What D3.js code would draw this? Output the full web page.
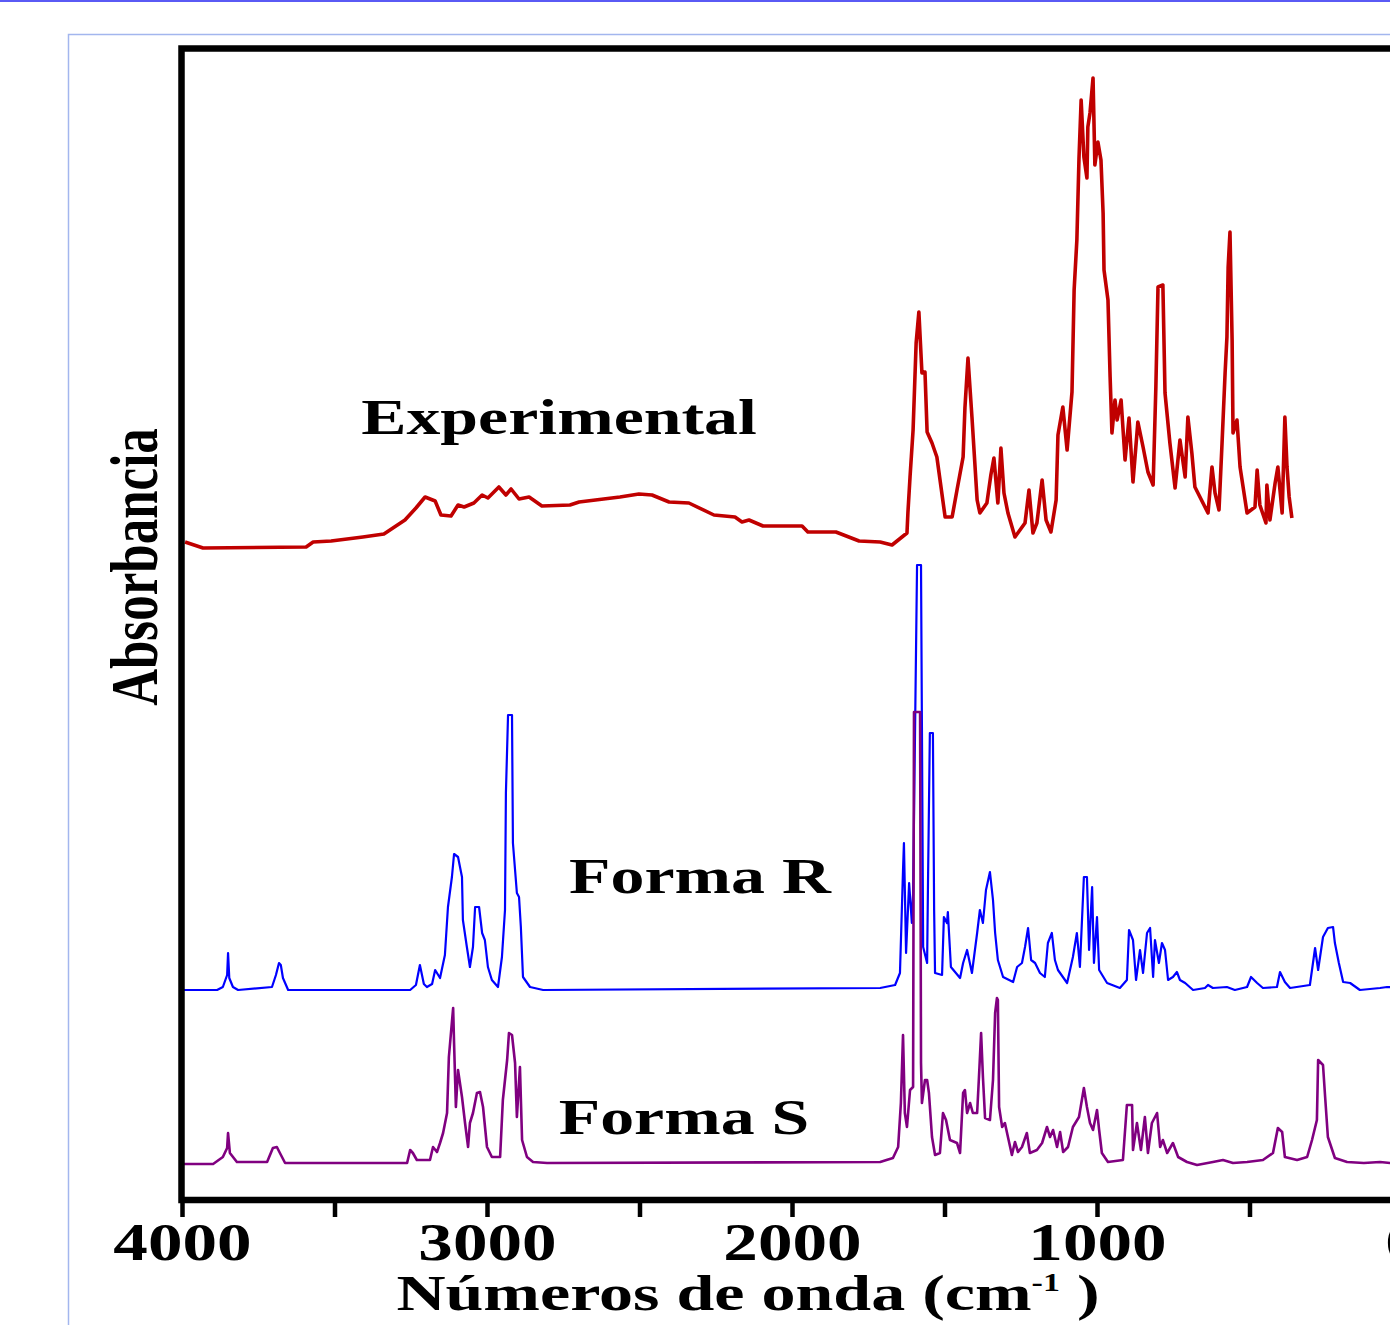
<!DOCTYPE html>
<html>
<head>
<meta charset="utf-8">
<script src="https://cdn.jsdelivr.net/npm/d3@7"></script>
<style>
  html, body { margin: 0; padding: 0; background: #fff; }
  svg { display: block; }
  text { font-family: "Liberation Serif", "Times New Roman", serif; font-weight: bold; fill: #000; }
</style>
</head>
<body>
<svg id="chart" width="1390" height="1325"></svg>
<script>
// ---- data (wavenumber cm^-1, relative absorbance) ----
const seriesNames = ["Experimental", "Forma R", "Forma S"];
const seriesColors = ["#c00000", "#0000ff", "#800080"];
const stackOffsets = [65, 21, 3.6];

const experimental = [
  [3990,0.8],[3931,0.2],[3593,0.3],[3570,0.8],[3511,0.9],[3407,1.3],[3338,1.6],[3269,3.0],[3233,4.2],
  [3203,5.3],[3170,4.9],[3151,3.5],[3118,3.4],[3095,4.5],[3075,4.3],[3043,4.7],[3016,5.5],[2997,5.2],
  [2961,6.3],[2938,5.5],[2921,6.1],[2895,5.1],[2862,5.3],[2820,4.4],[2728,4.5],[2698,4.8],[2564,5.3],
  [2502,5.6],[2459,5.5],[2403,4.8],[2338,4.7],[2256,3.5],[2187,3.3],[2164,2.8],[2141,3.0],[2095,2.4],
  [1967,2.4],[1948,1.8],[1856,1.8],[1780,0.9],[1711,0.8],[1672,0.5],[1623,1.7],[1620,3.7],[1613,7.3],
  [1603,12.0],[1593,20.7],[1584,23.8],[1574,17.7],[1564,17.8],[1557,11.8],[1541,10.7],[1525,9.3],
  [1498,3.3],[1475,3.3],[1459,6.0],[1439,9.3],[1433,14.2],[1423,19.2],[1410,13.3],[1393,5.0],[1384,3.7],
  [1361,4.7],[1348,7.5],[1338,9.2],[1325,4.7],[1315,10.2],[1305,5.7],[1292,3.7],[1269,1.3],[1236,2.7],
  [1223,6.0],[1210,1.7],[1197,2.7],[1180,7.0],[1167,3.0],[1151,1.8],[1134,5.0],[1128,11.5],[1112,14.3],
  [1098,10.0],[1082,15.8],[1075,26.0],[1066,31.0],[1059,39.2],[1052,45.0],[1043,39.3],[1033,37.2],
  [1030,42.3],[1023,43.7],[1013,47.2],[1007,38.5],[997,40.8],[987,39.0],[980,33.7],[977,28.0],[964,25.0],
  [957,17.3],[951,11.7],[941,15.0],[934,13.0],[921,15.0],[908,9.0],[895,13.2],[882,6.8],[866,12.8],
  [849,10.3],[833,7.8],[816,6.5],[807,16.3],[800,26.3],[784,26.5],[777,15.7],[761,10.7],[744,6.2],
  [728,11.0],[711,7.3],[702,13.3],[689,9.7],[679,6.3],[636,3.7],[623,8.3],[613,5.7],[600,4.0],[590,10.7],
  [580,17.7],[574,21.3],[570,28.3],[564,31.8],[557,21.0],[554,11.7],[541,13.0],[531,8.3],[508,3.7],
  [482,4.3],[475,8.0],[466,4.5],[446,2.7],[443,6.5],[433,3.0],[416,6.7],[407,8.3],[393,3.7],[384,13.3],
  [377,8.3],[370,5.3],[361,3.2]
];

const formaR = [
  [4000,0],[3885,0],[3866,0.3],[3852,1.5],[3849,3.7],[3845,1.2],[3833,0.3],[3816,0],[3705,0.3],[3692,1.5],
  [3682,2.7],[3676,2.5],[3669,1.2],[3652,0],[3252,0],[3233,0.5],[3220,2.5],[3207,0.6],[3197,0.3],
  [3180,0.6],[3170,2.0],[3154,1.2],[3138,3.5],[3128,8.3],[3115,11.3],[3108,13.6],[3095,13.3],[3082,11.3],
  [3079,7.0],[3066,4.3],[3056,2.3],[3046,4.3],[3039,8.3],[3026,8.3],[3016,5.7],[3007,5.0],[2997,2.3],
  [2984,1.0],[2964,0.3],[2951,3.3],[2941,8.0],[2938,19.7],[2931,27.5],[2918,27.5],[2915,14.7],[2902,9.7],
  [2895,9.3],[2889,6.3],[2882,1.3],[2859,0.3],[2816,0],[1711,0.2],[1662,0.5],[1646,1.7],[1636,12.0],
  [1633,14.7],[1626,3.7],[1616,10.7],[1607,6.7],[1603,9.7],[1590,42.5],[1577,42.5],[1574,26.3],[1570,4.3],
  [1557,2.7],[1554,11.0],[1548,25.7],[1538,25.7],[1534,8.0],[1531,1.7],[1508,1.5],[1502,7.3],[1492,6.7],
  [1489,7.8],[1479,2.3],[1449,1.2],[1439,2.7],[1426,4.0],[1410,1.7],[1393,5.7],[1384,8.0],[1374,6.7],
  [1364,10.0],[1351,11.8],[1341,9.0],[1334,5.7],[1325,3.0],[1308,1.3],[1275,0.8],[1262,2.3],[1246,2.7],
  [1236,4.3],[1226,6.2],[1216,3.0],[1203,2.7],[1187,1.7],[1171,1.3],[1161,4.7],[1148,5.7],[1138,3.0],
  [1128,2.0],[1098,0.7],[1079,3.3],[1066,5.7],[1056,2.3],[1043,11.3],[1033,11.3],[1026,4.0],[1016,10.3],
  [1010,2.7],[1000,7.3],[993,2.0],[967,0.7],[925,0.2],[902,1.0],[895,6.0],[882,5.0],[872,1.0],[859,4.0],
  [849,1.7],[836,5.7],[826,6.2],[816,1.3],[810,5.0],[797,2.7],[787,4.7],[777,4.0],[767,1.0],[751,1.3],
  [738,1.8],[728,1.0],[711,0.7],[685,0],[646,0.2],[636,0.5],[620,0.2],[574,0.3],[548,0],[508,0.3],
  [495,1.3],[475,0.7],[456,0.2],[410,0.3],[400,1.8],[384,0.8],[367,0.2],[302,0.5],[285,4.2],[275,2.0],
  [259,5.3],[243,6.2],[226,6.3],[220,4.7],[207,2.7],[193,0.8],[170,0.7],[138,0],[72,0.2],[49,0.3],[0,0.2]
];

const formaS = [
  [4000,0],[3898,0],[3866,0.7],[3852,1.6],[3849,3.1],[3843,1.1],[3820,0.2],[3721,0.2],[3702,1.6],[3689,1.7],
  [3679,1.1],[3662,0.1],[3262,0.1],[3252,1.4],[3243,1.1],[3230,0.4],[3187,0.4],[3177,1.7],[3164,1.2],
  [3154,2.1],[3144,3.1],[3131,5.1],[3125,10.7],[3111,15.6],[3108,12.1],[3102,5.7],[3095,9.4],[3082,6.7],
  [3072,4.1],[3062,1.7],[3056,4.1],[3046,5.1],[3033,7.1],[3023,7.2],[3013,5.7],[3000,1.7],[2984,0.7],
  [2957,0.7],[2948,6.4],[2934,10.4],[2928,13.1],[2918,12.9],[2908,10.1],[2902,4.7],[2892,9.7],[2885,2.4],
  [2869,0.7],[2849,0.2],[2803,0.1],[1711,0.2],[1669,0.6],[1652,1.7],[1643,6.1],[1636,12.9],[1630,5.1],
  [1623,3.7],[1613,7.4],[1603,7.7],[1600,45.2],[1580,45.2],[1577,10.1],[1574,6.1],[1564,8.4],[1557,8.4],
  [1551,7.1],[1541,2.7],[1531,0.9],[1515,1.1],[1505,5.1],[1495,4.4],[1482,2.4],[1459,2.1],[1449,1.1],
  [1439,7.1],[1433,7.4],[1426,5.1],[1416,6.1],[1407,5.1],[1393,5.1],[1387,8.7],[1380,13.1],[1374,8.7],
  [1367,4.6],[1351,4.4],[1341,8.4],[1334,15.1],[1328,16.6],[1325,16.4],[1321,5.7],[1311,3.7],[1302,4.1],
  [1292,2.7],[1279,0.9],[1269,2.2],[1259,1.2],[1246,1.7],[1230,3.1],[1220,1.1],[1197,1.4],[1180,2.1],
  [1164,3.7],[1154,2.7],[1144,3.4],[1131,1.7],[1121,3.2],[1111,1.2],[1095,1.7],[1079,3.7],[1059,4.7],
  [1043,7.6],[1033,5.7],[1023,4.1],[1013,3.4],[1000,5.4],[993,3.4],[984,1.1],[964,0.2],[915,0.4],
  [902,5.9],[885,5.9],[882,1.4],[869,4.1],[856,1.4],[843,4.7],[833,1.1],[820,4.1],[803,5.1],[793,1.7],
  [784,2.4],[770,1.1],[751,2.1],[734,0.7],[705,0.2],[672,-0.1],[620,0.2],[587,0.4],[554,0.1],[508,0.2],
  [456,0.4],[423,1.1],[407,3.6],[393,3.2],[384,0.7],[344,0.4],[311,0.7],[295,2.4],[279,4.4],[275,10.4],
  [259,9.9],[252,6.7],[243,2.7],[220,0.6],[180,0.2],[125,0.1],[72,0.2],[39,0.1],[0,0.1]
];

const seriesData = [experimental, formaR, formaS];
const xTickValues = [4000, 3500, 3000, 2500, 2000, 1500, 1000, 500, 0];
const xTickLabels = ["4000", "", "3000", "", "2000", "", "1000", "", "0"];
const xTitle = "Números de onda (cm";
const xTitleSup = "-1";
const yTitle = "Absorbancia";

// ---- layout ----
const svg = d3.select("#chart");
const frame = { left: 181.5, top: 48.5, bottom: 1200, right: 1420 };
const stretch = 1.33;

const x = d3.scaleLinear().domain([4000, 0]).range([182, 1402]);
const y = d3.scaleLinear().domain([0, 115.2]).range([1200, 48]);

// page decorations
svg.append("line").attr("x1", 0).attr("x2", 1390).attr("y1", 1).attr("y2", 1)
  .attr("stroke", "#5a5af5").attr("stroke-width", 2);
svg.append("path").attr("d", "M1400,34.5 H68.5 V1330")
  .attr("fill", "none").attr("stroke", "#a3b6ee").attr("stroke-width", 1.5);

// spectra
const line = d3.line().x(d => x(d[0])).y(d => y(d[1] + d[2]));
const widths = [3.6, 2.2, 2.6];
seriesData.forEach((s, i) => {
  svg.append("path")
    .datum(s.map(p => [p[0], p[1], stackOffsets[i]]))
    .attr("fill", "none")
    .attr("stroke", seriesColors[i])
    .attr("stroke-width", widths[i])
    .attr("stroke-linejoin", "round")
    .attr("d", line);
});

// frame
svg.append("path")
  .attr("d", `M${frame.right},${frame.top} H${frame.left} V${frame.bottom} H${frame.right}`)
  .attr("fill", "none").attr("stroke", "#000").attr("stroke-width", 6.5);

// x axis
const xAxis = d3.axisBottom(x).tickValues(xTickValues).tickSize(17)
  .tickFormat((d, i) => xTickLabels[i]);
const gx = svg.append("g").attr("transform", `translate(0,${frame.bottom})`).call(xAxis);
gx.select(".domain").remove();
gx.selectAll(".tick line").attr("stroke", "#000").attr("stroke-width", 4.5);
gx.selectAll(".tick text")
  .attr("y", 60).attr("dy", null)
  .attr("font-size", 52)
  .attr("font-family", "'Liberation Serif', 'Times New Roman', serif")
  .attr("font-weight", "bold")
  .attr("fill", "#000")
  .attr("transform", `scale(${stretch},1)`);

// x title
const xt = svg.append("text")
  .attr("transform", `translate(748,1310) scale(1.36,1)`)
  .attr("text-anchor", "middle")
  .attr("font-size", 50);
xt.append("tspan").text(xTitle);
xt.append("tspan").attr("font-size", 25).attr("dy", -19).text(xTitleSup);
xt.append("tspan").attr("dy", 19).text(" )");

// y title
svg.append("text")
  .attr("transform", `translate(157,567) scale(${stretch},1) rotate(-90)`)
  .attr("text-anchor", "middle")
  .attr("font-size", 51)
  .text(yTitle);

// series labels
const labelPos = [[559, 434], [700, 893], [684, 1134]];
seriesNames.forEach((n, i) => {
  svg.append("text")
    .attr("transform", `translate(${labelPos[i][0]},${labelPos[i][1]}) scale(${stretch},1)`)
    .attr("text-anchor", "middle")
    .attr("font-size", 51)
    .text(n);
});
</script>
</body>
</html>
